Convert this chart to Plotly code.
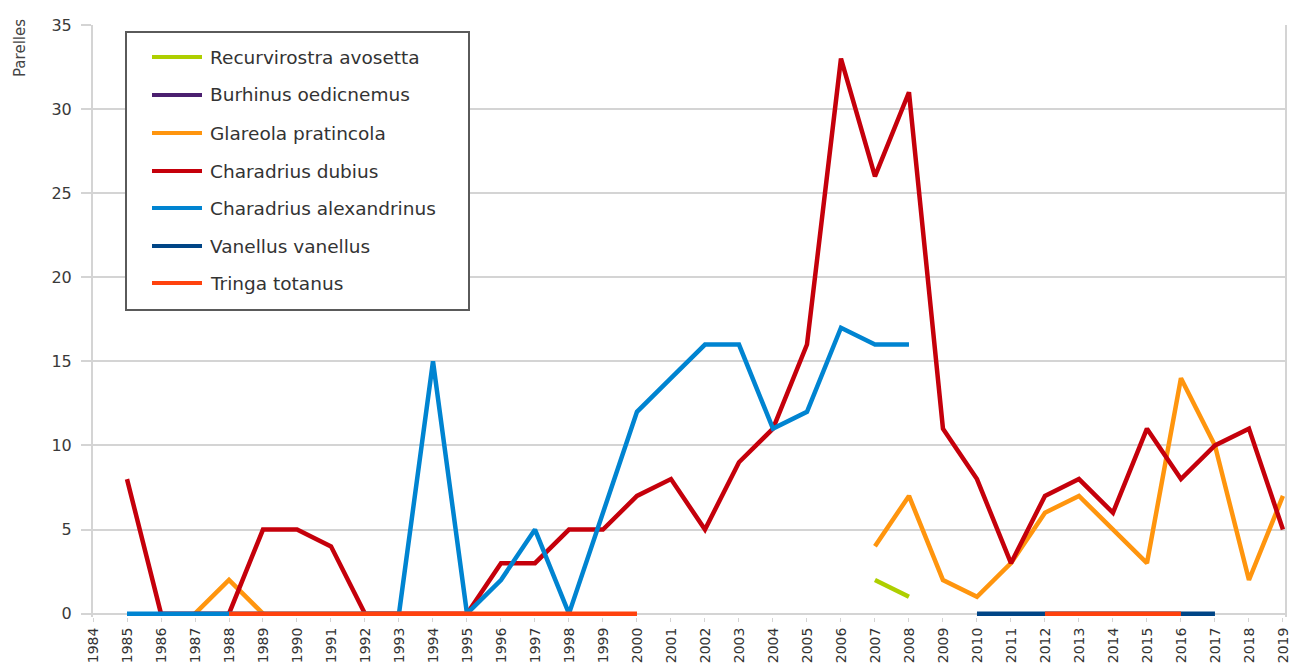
import plotly.graph_objects as go

N = None

# Breeding pairs ("parelles") per year, 1984-2019
years = list(range(1984, 2020))
year_labels = [str(y) for y in years]

recurvirostra_avosetta = [N] * 23 + [2, 1] + [N] * 11
burhinus_oedicnemus = [N] * 36
glareola_pratincola = [N, N, N, 0, 2, 0] + [N] * 17 + [4, 7, 2, 1, 3, 6, 7, 5, 3, 14, 10, 2, 7]
charadrius_dubius = [N, 8, 0, 0, 0, 5, 5, 4, 0, 0, 0, 0, 3, 3, 5, 5, 7, 8, 5, 9, 11, 16,
                     33, 26, 31, 11, 8, 3, 7, 8, 6, 11, 8, 10, 11, 5]
charadrius_alexandrinus = [N, 0, 0, 0, 0, 0, 0, 0, 0, 0, 15, 0, 2, 5, 0, 6, 12, 14, 16, 16,
                           11, 12, 17, 16, 16] + [N] * 11
vanellus_vanellus = [N] * 26 + [0] * 8 + [N] * 2
tringa_totanus = [N] * 4 + [0] * 13 + [N] * 11 + [0] * 5 + [N] * 3

species = [
    ("Recurvirostra avosetta", recurvirostra_avosetta, "#aecf00"),
    ("Burhinus oedicnemus", burhinus_oedicnemus, "#4b1f6f"),
    ("Glareola pratincola", glareola_pratincola, "#ff950e"),
    ("Charadrius dubius", charadrius_dubius, "#c5000b"),
    ("Charadrius alexandrinus", charadrius_alexandrinus, "#0084d1"),
    ("Vanellus vanellus", vanellus_vanellus, "#004586"),
    ("Tringa totanus", tringa_totanus, "#ff420e"),
]

W, H = 1290, 663
ML, MR, MT, MB = 93, 5, 25, 46
FONT = "DejaVu Sans"


def px(x):
    return (x - ML) / (W - ML - MR)


def py(y):
    return (H - MB - y) / (H - MT - MB)


fig = go.Figure()
for name, vals, color in species:
    fig.add_trace(go.Scatter(
        x=years, y=vals, name=name, mode="lines",
        line=dict(color=color, width=4.5),
        connectgaps=False, showlegend=False,
    ))

grid = "#d4d4d4"

fig.update_layout(
    width=W, height=H,
    margin=dict(l=ML, r=MR, t=MT, b=MB, pad=0, autoexpand=False),
    paper_bgcolor="white", plot_bgcolor="white",
    font=dict(family=FONT, color="#333333"),
    xaxis=dict(
        range=[1984, 2019.06], tickmode="array", tickvals=years, ticktext=year_labels,
        tickangle=-90, tickfont=dict(size=14, color="#333333"),
        ticks="outside", ticklen=4, tickcolor=grid, tickwidth=1,
        ticklabeloverflow="allow",
        showgrid=False, zeroline=False, automargin=False,
        showline=False,
    ),
    yaxis=dict(
        range=[-0.2, 35], dtick=5, tick0=0,
        tickfont=dict(size=16, color="#3a3a3a"),
        ticks="outside", ticklen=10, tickcolor=grid, tickwidth=2,
        ticklabelstandoff=6, automargin=False,
        showgrid=True, gridcolor=grid, gridwidth=2,
        zeroline=True, zerolinecolor=grid, zerolinewidth=2,
        showline=True, mirror=True, linecolor=grid, linewidth=2,
    ),
)

# axis title
fig.add_annotation(
    text="Parelles", xref="paper", yref="paper", x=px(20), y=py(48),
    textangle=-90, showarrow=False, xanchor="center", yanchor="middle",
    font=dict(family=FONT, size=15, color="#444444"),
)

# legend box with line keys
fig.add_shape(
    type="rect", xref="paper", yref="paper",
    x0=px(126), x1=px(469), y0=py(310), y1=py(32),
    line=dict(color="#5a5a5a", width=2), fillcolor="white", layer="above",
)
row_y = [57, 95, 133, 171, 208, 246, 283]
for (name, _, color), ry in zip(species, row_y):
    fig.add_shape(
        type="line", xref="paper", yref="paper",
        x0=px(152), x1=px(202), y0=py(ry), y1=py(ry),
        line=dict(color=color, width=4), layer="above",
    )
    fig.add_annotation(
        text=name, xref="paper", yref="paper", x=px(208), y=py(ry),
        showarrow=False, xanchor="left", yanchor="middle",
        font=dict(family=FONT, size=18.5, color="#333333"),
    )

fig.write_html("out.html")
